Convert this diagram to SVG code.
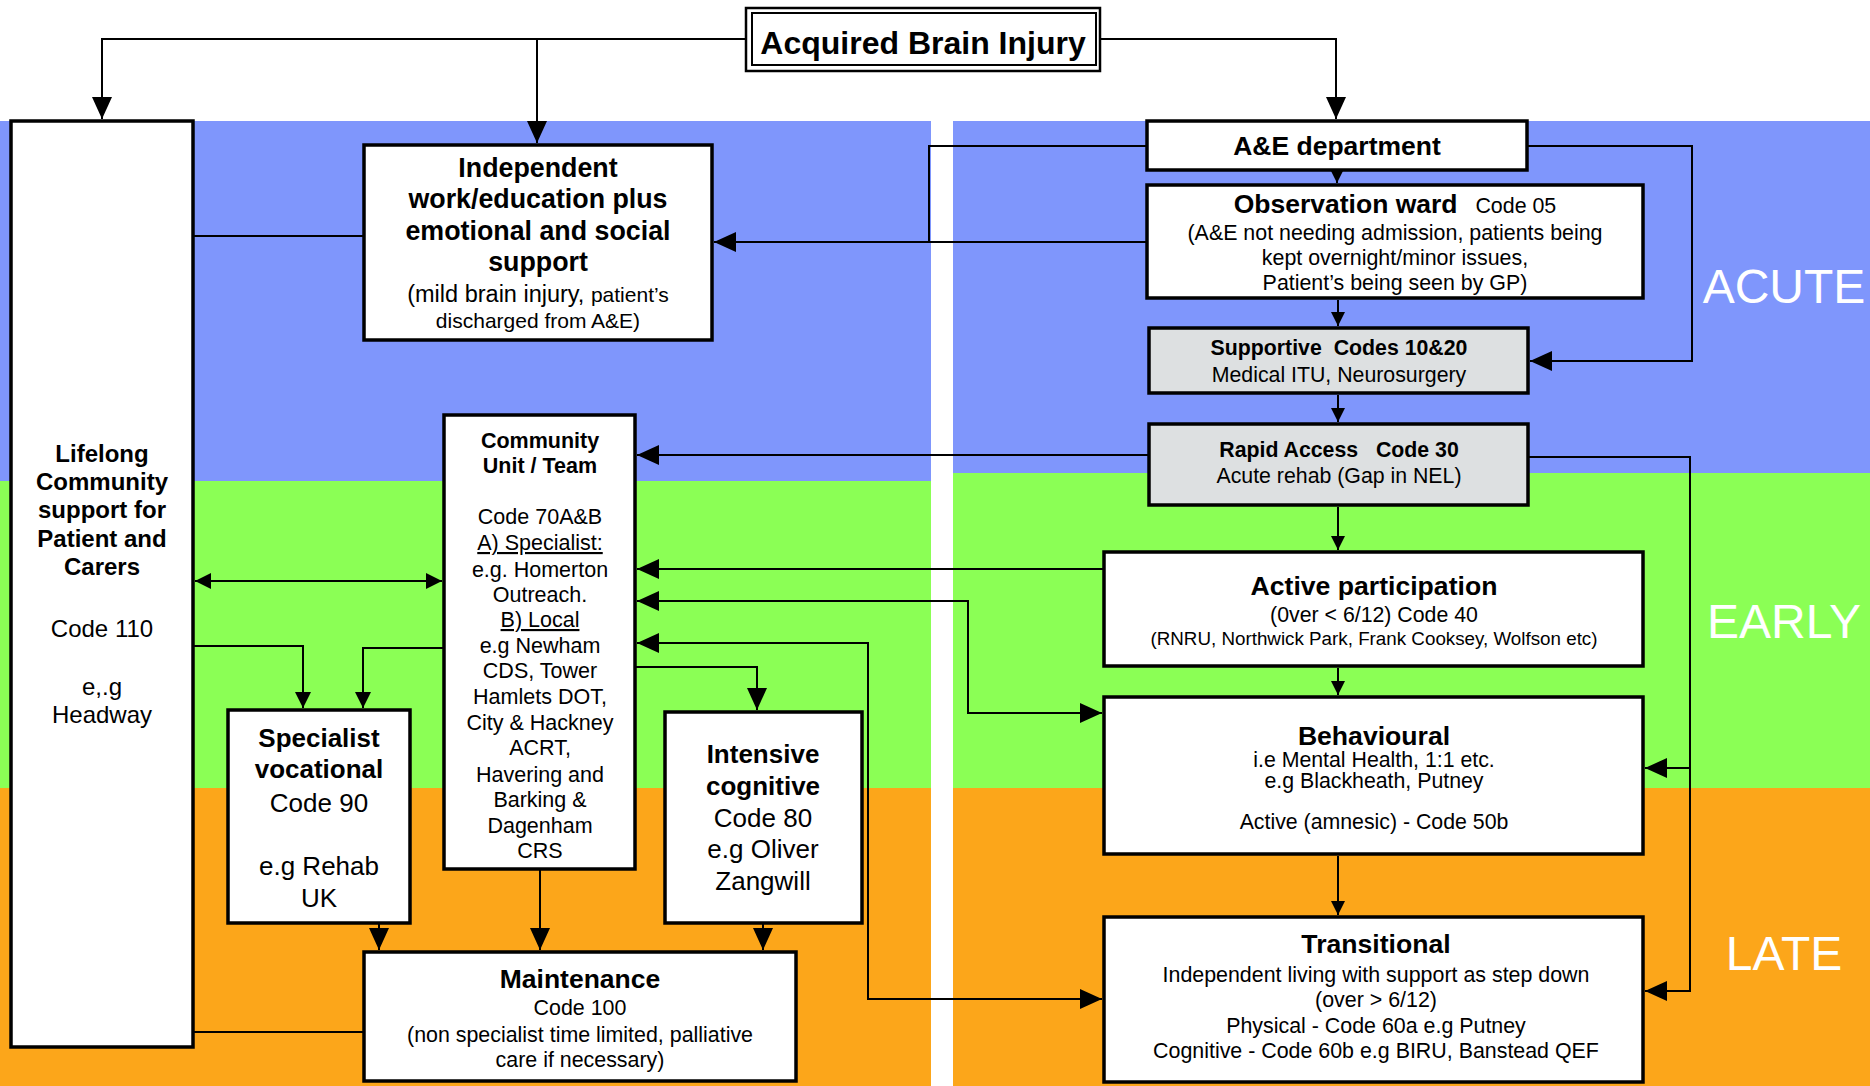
<svg xmlns="http://www.w3.org/2000/svg" width="1870" height="1086" viewBox="0 0 1870 1086">
  <defs>
    <style>
      text { font-family: "Liberation Sans", Arial, sans-serif; fill: #000; text-anchor: middle; white-space: pre; }
      .b { font-weight: bold; }
      .box { fill: #fff; stroke: #000; stroke-width: 3.5; }
      .grey { fill: #DDE0E1; }
      .conn { fill: none; stroke: #000; stroke-width: 2; }
      .phase { fill: #fff; font-size: 48px; }
    </style>
    <marker id="ah" viewBox="0 0 22 20" refX="22" refY="10" markerWidth="22" markerHeight="20" markerUnits="userSpaceOnUse" orient="auto-start-reverse">
      <path d="M0,0L22,10L0,20z" fill="#000"/>
    </marker>
    <marker id="ahm" viewBox="0 0 16 16" refX="16" refY="8" markerWidth="16" markerHeight="16" markerUnits="userSpaceOnUse" orient="auto-start-reverse">
      <path d="M0,0L16,8L0,16z" fill="#000"/>
    </marker>
    <marker id="ahs" viewBox="0 0 14 14" refX="14" refY="7" markerWidth="14" markerHeight="14" markerUnits="userSpaceOnUse" orient="auto-start-reverse">
      <path d="M0,0L14,7L0,14z" fill="#000"/>
    </marker>
  </defs>

  <!-- phase bands -->
  <g id="bands">
    <rect x="0" y="121" width="931" height="360" fill="#7F96FC"/>
    <rect x="0" y="481" width="931" height="307" fill="#8BFF55"/>
    <rect x="0" y="788" width="931" height="298" fill="#FCA61A"/>
    <rect x="953" y="121" width="917" height="352" fill="#7F96FC"/>
    <rect x="953" y="473" width="917" height="315" fill="#8BFF55"/>
    <rect x="953" y="788" width="917" height="298" fill="#FCA61A"/>
    <text class="phase" x="1784" y="303">ACUTE</text>
    <text class="phase" x="1784" y="638">EARLY</text>
    <text class="phase" x="1784" y="970">LATE</text>
  </g>

  <!-- connectors -->
  <g id="connectors">
    <path class="conn" d="M746,39H102V119" marker-end="url(#ah)"/>
    <path class="conn" d="M537,39V143" marker-end="url(#ah)"/>
    <path class="conn" d="M1100,39H1336V119" stroke-width="1.5" marker-end="url(#ah)"/>
    <path class="conn" d="M1337,172V183" marker-end="url(#ahs)"/>
    <path class="conn" d="M1338,300V326" marker-end="url(#ahs)"/>
    <path class="conn" d="M1338,395V422" marker-end="url(#ahs)"/>
    <path class="conn" d="M1338,507V550" marker-end="url(#ahs)"/>
    <path class="conn" d="M1338,668V695" marker-end="url(#ahs)"/>
    <path class="conn" d="M1338,856V915" marker-end="url(#ahs)"/>
    <path class="conn" d="M1147,146H929V242"/>
    <path class="conn" d="M1147,242H714" marker-end="url(#ah)"/>
    <path class="conn" d="M1527,146H1692V361H1530" marker-end="url(#ah)"/>
    <path class="conn" d="M1528,457H1690V991H1645" marker-end="url(#ah)"/>
    <path class="conn" d="M1690,768H1645" marker-end="url(#ah)"/>
    <path class="conn" d="M1149,455H637" marker-end="url(#ah)"/>
    <path class="conn" d="M1104,569H637" marker-end="url(#ah)"/>
    <path class="conn" d="M637,601H968V713H1102" marker-start="url(#ah)" marker-end="url(#ah)"/>
    <path class="conn" d="M637,643H868V999H1102" marker-start="url(#ah)" marker-end="url(#ah)"/>
    <path class="conn" d="M635,667H757V710" marker-end="url(#ah)"/>
    <path class="conn" d="M195,581H442" marker-start="url(#ahm)" marker-end="url(#ahm)"/>
    <path class="conn" d="M193,646H303V708" marker-end="url(#ahm)"/>
    <path class="conn" d="M444,648H363V708" marker-end="url(#ahm)"/>
    <path class="conn" d="M379,923V950" marker-end="url(#ah)"/>
    <path class="conn" d="M540,869V950" marker-end="url(#ah)"/>
    <path class="conn" d="M763,923V950" marker-end="url(#ah)"/>
    <path class="conn" d="M193,236H364"/>
    <path class="conn" d="M193,1032H364"/>
  </g>

  <!-- title -->
  <g id="acquired-brain-injury">
    <rect x="746" y="8" width="354" height="63" fill="#fff" stroke="#000" stroke-width="2.5"/>
    <rect x="752" y="13" width="344" height="52" fill="none" stroke="#000" stroke-width="2"/>
    <text class="b" x="923" y="54" font-size="32">Acquired Brain Injury</text>
  </g>

  <g id="lifelong">
    <rect class="box" x="11" y="121" width="182" height="926"/>
    <g font-size="24">
      <text class="b" x="102" y="462">Lifelong</text>
      <text class="b" x="102" y="490">Community</text>
      <text class="b" x="102" y="518">support for</text>
      <text class="b" x="102" y="547">Patient and</text>
      <text class="b" x="102" y="575">Carers</text>
      <text x="102" y="637">Code 110</text>
      <text x="102" y="695">e,.g</text>
      <text x="102" y="723">Headway</text>
    </g>
  </g>

  <g id="independent">
    <rect class="box" x="364" y="145" width="348" height="195"/>
    <g font-size="26.8">
      <text class="b" x="538" y="177">Independent</text>
      <text class="b" x="538" y="208">work/education plus</text>
      <text class="b" x="538" y="240">emotional and social</text>
      <text class="b" x="538" y="271">support</text>
    </g>
    <text x="538" y="302" font-size="23.5">(mild brain injury, <tspan font-size="21">patient’s</tspan></text>
    <text x="538" y="328" font-size="21">discharged from A&amp;E)</text>
  </g>

  <g id="community-unit">
    <rect class="box" x="444" y="415" width="191" height="454"/>
    <g font-size="21.5">
      <text class="b" x="540" y="448">Community</text>
      <text class="b" x="540" y="473">Unit / Team</text>
      <text x="540" y="524">Code 70A&amp;B</text>
      <text x="540" y="550" text-decoration="underline">A) Specialist:</text>
      <text x="540" y="577">e.g. Homerton</text>
      <text x="540" y="602">Outreach.</text>
      <text x="540" y="627" text-decoration="underline">B) Local</text>
      <text x="540" y="653">e.g Newham</text>
      <text x="540" y="678">CDS, Tower</text>
      <text x="540" y="704">Hamlets DOT,</text>
      <text x="540" y="730">City &amp; Hackney</text>
      <text x="540" y="755">ACRT,</text>
      <text x="540" y="782">Havering and</text>
      <text x="540" y="807">Barking &amp;</text>
      <text x="540" y="833">Dagenham</text>
      <text x="540" y="858">CRS</text>
    </g>
  </g>

  <g id="specialist-vocational">
    <rect class="box" x="228" y="710" width="182" height="213"/>
    <g font-size="26">
      <text class="b" x="319" y="747">Specialist</text>
      <text class="b" x="319" y="778">vocational</text>
      <text x="319" y="812">Code 90</text>
      <text x="319" y="875">e.g Rehab</text>
      <text x="319" y="907">UK</text>
    </g>
  </g>

  <g id="intensive-cognitive">
    <rect class="box" x="665" y="712" width="197" height="211"/>
    <g font-size="26">
      <text class="b" x="763" y="763">Intensive</text>
      <text class="b" x="763" y="795">cognitive</text>
      <text x="763" y="827">Code 80</text>
      <text x="763" y="858">e.g Oliver</text>
      <text x="763" y="890">Zangwill</text>
    </g>
  </g>

  <g id="maintenance">
    <rect class="box" x="364" y="952" width="432" height="129"/>
    <text class="b" x="580" y="988" font-size="26.5">Maintenance</text>
    <g font-size="21.4">
      <text x="580" y="1015">Code 100</text>
      <text x="580" y="1042">(non specialist time limited, palliative</text>
      <text x="580" y="1067">care if necessary)</text>
    </g>
  </g>

  <g id="ae-department">
    <rect class="box" x="1147" y="121" width="380" height="49"/>
    <text class="b" x="1337" y="155" font-size="26.5">A&amp;E department</text>
  </g>

  <g id="observation-ward">
    <rect class="box" x="1147" y="185" width="496" height="113"/>
    <text x="1395" y="213" font-size="21.4"><tspan class="b" font-size="26.5">Observation ward</tspan>   Code 05</text>
    <g font-size="21.4">
      <text x="1395" y="240">(A&amp;E not needing admission, patients being</text>
      <text x="1395" y="265">kept overnight/minor issues,</text>
      <text x="1395" y="290">Patient’s being seen by GP)</text>
    </g>
  </g>

  <g id="supportive">
    <rect class="box grey" x="1149" y="328" width="379" height="65"/>
    <text class="b" x="1339" y="355" font-size="21.3">Supportive  Codes 10&amp;20</text>
    <text x="1339" y="382" font-size="21.3">Medical ITU, Neurosurgery</text>
  </g>

  <g id="rapid-access">
    <rect class="box grey" x="1149" y="424" width="379" height="81"/>
    <text class="b" x="1339" y="457" font-size="21.3">Rapid Access   Code 30</text>
    <text x="1339" y="483" font-size="21.3">Acute rehab (Gap in NEL)</text>
  </g>

  <g id="active-participation">
    <rect class="box" x="1104" y="552" width="539" height="114"/>
    <text class="b" x="1374" y="595" font-size="26.6">Active participation</text>
    <text x="1374" y="622" font-size="21.3">(0ver &lt; 6/12) Code 40</text>
    <text x="1374" y="645" font-size="18.8">(RNRU, Northwick Park, Frank Cooksey, Wolfson etc)</text>
  </g>

  <g id="behavioural">
    <rect class="box" x="1104" y="697" width="539" height="157"/>
    <text class="b" x="1374" y="745" font-size="26.6">Behavioural</text>
    <g font-size="21.3">
      <text x="1374" y="767">i.e Mental Health, 1:1 etc.</text>
      <text x="1374" y="788">e.g Blackheath, Putney</text>
      <text x="1374" y="829">Active (amnesic) - Code 50b</text>
    </g>
  </g>

  <g id="transitional">
    <rect class="box" x="1104" y="917" width="539" height="165"/>
    <text class="b" x="1376" y="953" font-size="26.6">Transitional</text>
    <g font-size="21.4">
      <text x="1376" y="982">Independent living with support as step down</text>
      <text x="1376" y="1007">(over &gt; 6/12)</text>
      <text x="1376" y="1033">Physical - Code 60a e.g Putney</text>
      <text x="1376" y="1058">Cognitive - Code 60b e.g BIRU, Banstead QEF</text>
    </g>
  </g>
</svg>
